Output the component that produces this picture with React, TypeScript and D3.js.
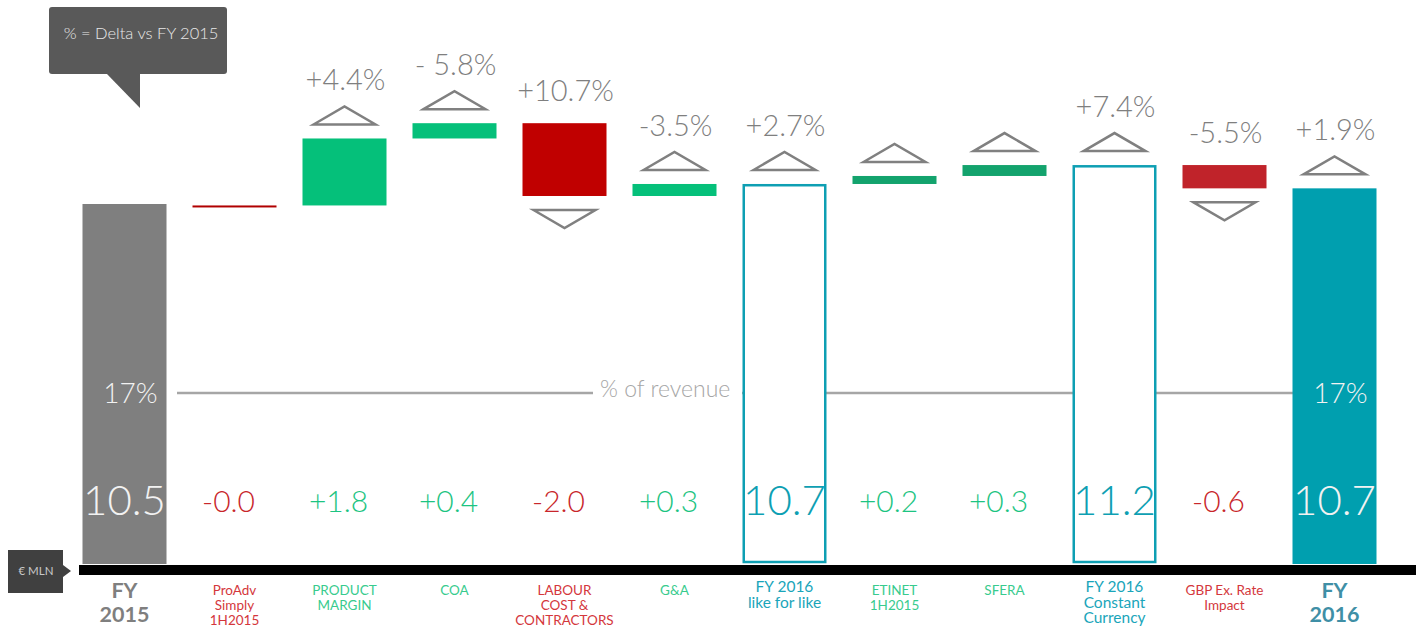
import React from "react";
import * as d3 from "d3";

// ---------- data ----------
const categories = [
  "FY 2015",
  "ProAdv Simply 1H2015",
  "PRODUCT MARGIN",
  "COA",
  "LABOUR COST & CONTRACTORS",
  "G&A",
  "FY 2016 like for like",
  "ETINET 1H2015",
  "SFERA",
  "FY 2016 Constant Currency",
  "GBP Ex. Rate Impact",
  "FY 2016",
];
const tickLines = [
  ["FY", "2015"],
  ["ProAdv", "Simply", "1H2015"],
  ["PRODUCT", "MARGIN"],
  ["COA"],
  ["LABOUR", "COST &", "CONTRACTORS"],
  ["G&A"],
  ["FY 2016", "like for like"],
  ["ETINET", "1H2015"],
  ["SFERA"],
  ["FY 2016", "Constant", "Currency"],
  ["GBP Ex. Rate", "Impact"],
  ["FY", "2016"],
];
const kinds = ["start", "delta", "delta", "delta", "delta", "delta", "total", "delta", "delta", "total", "delta", "total"];
const deltas = [0, -0.04, 1.84, 0.42, -2.0, 0.33, 0, 0.22, 0.3, 0, -0.64, 0];
const totalValues = [10.5, 0, 0, 0, 0, 0, 10.7, 0, 0, 11.2, 0, 10.7];
const pctLabels = ["", "", "+4.4%", "- 5.8%", "+10.7%", "-3.5%", "+2.7%", "", "", "+7.4%", "-5.5%", "+1.9%"];
const arrows = [0, 0, 1, 1, -1, 1, 1, 1, 1, 1, -1, 1];
const revenueShare = ["17%", "", "", "", "", "", "", "", "", "", "", "17%"];
const unitLabel = "€ MLN";
const noteLabel = "% = Delta vs FY 2015";
const revenueLabel = "% of revenue";

// ---------- styles ----------
const barFill = ["#7F7F7F", "#B00000", "#05C07A", "#05C07A", "#C00000", "#05C07A", "none", "#13A36D", "#13A36D", "none", "#C0232A", "#009FAF"];
const tickColor = ["#7F7F7F", "#D4373C", "#38CB8E", "#38CB8E", "#D4373C", "#38CB8E", "#1AA5BA", "#38CB8E", "#38CB8E", "#1AA5BA", "#D4373C", "#3F8FA6"];
const FONT = "'Lato', 'Open Sans', 'DejaVu Sans', sans-serif";
const TEAL = "#0E9FB3";

export default function App() {
  const W = 1416, H = 627;
  const x = d3.scalePoint<string>().domain(categories).range([124.5, 1334.5]);
  const y = d3.scaleLinear().domain([0, 13]).range([586.2, 113]);
  const barW = 84;
  const axisTop = 564;

  // waterfall computation
  let cum = 0;
  const bars = categories.map((c, i) => {
    const k = kinds[i];
    let top: number, bottom: number;
    if (k === "start") {
      cum = totalValues[i];
      top = y(cum); bottom = axisTop;
    } else if (k === "delta") {
      const prev = cum;
      cum += deltas[i];
      top = y(Math.max(prev, cum));
      bottom = y(Math.min(prev, cum));
      if (bottom - top < 2) { top = bottom; bottom = top + 2; }
    } else {
      top = y(cum); bottom = axisTop;
    }
    return { c, i, k, top, bottom, cx: x(c) as number };
  });

  const fmtDelta = (v: number) => (v < 0 ? "-" : "+") + Math.abs(v).toFixed(1);

  const triW = 62, triH = 18, triGap = 14;

  return (
    <svg width={W} height={H} style={{ position: "absolute", left: 0, top: 0, background: "#fff" }} fontFamily={FONT}>
      <rect x={0} y={0} width={W} height={H} fill="#fff" />

      {/* callout */}
      <rect x={49} y={7} width={178} height={67} rx={3} fill="#595959" />
      <path d="M106,73 L140,108 L140,73 Z" fill="#595959" />
      <text x={141} y={39} textAnchor="middle" fontSize={16.5} fill="#E8E8E8" fontWeight={300}>{noteLabel}</text>

      {/* % of revenue line */}
      <line x1={177} x2={1300} y1={393} y2={393} stroke="#A6A6A6" strokeWidth={2.5} />
      <rect x={593} y={375} width={149} height={30} fill="#fff" />
      <text x={600} y={397} fontSize={23} fill="#A6A6A6" fontWeight={300}>{revenueLabel}</text>

      {/* bars */}
      {bars.map((b) => {
        const outlined = barFill[b.i] === "none";
        if (outlined) {
          return (
            <rect key={"b" + b.i} x={b.cx - barW / 2 + 1.25} y={b.top + 1.25} width={barW - 2.5}
              height={b.bottom - 2 - b.top - 1.25} fill="#fff" stroke={TEAL} strokeWidth={2.5} />
          );
        }
        return (
          <rect key={"b" + b.i} x={b.cx - barW / 2} y={b.top} width={barW} height={b.bottom - b.top} fill={barFill[b.i]} />
        );
      })}

      {/* arrows and percentage labels */}
      {bars.map((b) => {
        const dir = arrows[b.i];
        const els: any[] = [];
        if (dir === 1) {
          const base = b.top - triGap;
          els.push(
            <path key={"t" + b.i} d={`M${b.cx - triW / 2},${base} L${b.cx},${base - triH} L${b.cx + triW / 2},${base} Z`}
              fill="#fff" stroke="#808080" strokeWidth={2.5} strokeLinejoin="miter" />
          );
        } else if (dir === -1) {
          const topE = b.bottom + triGap;
          els.push(
            <path key={"t" + b.i} d={`M${b.cx - triW / 2},${topE} L${b.cx},${topE + triH} L${b.cx + triW / 2},${topE} Z`}
              fill="#fff" stroke="#808080" strokeWidth={2.5} />
          );
        }
        if (pctLabels[b.i]) {
          const ly = dir === 1 ? b.top - triGap - triH - 16 : b.top - 22;
          els.push(
            <text key={"p" + b.i} x={b.cx + 1} y={ly} textAnchor="middle" fontSize={29} fill="#7F7F7F" fontWeight={300}>
              {pctLabels[b.i]}
            </text>
          );
        }
        return <g key={"g" + b.i}>{els}</g>;
      })}

      {/* revenue share labels */}
      {bars.map((b) =>
        revenueShare[b.i] ? (
          <text key={"r" + b.i} x={b.cx + 6} y={403} textAnchor="middle" fontSize={28} fill="#F2F2F2" fontWeight={300}>
            {revenueShare[b.i]}
          </text>
        ) : null
      )}

      {/* value labels */}
      {bars.map((b) => {
        if (b.k === "delta") {
          const v = deltas[b.i];
          return (
            <text key={"v" + b.i} x={b.cx - 6} y={512} textAnchor="middle" fontSize={30} fontWeight={300}
              fill={v < 0 ? "#C8262B" : "#1DC482"}>
              {fmtDelta(v)}
            </text>
          );
        }
        const outlined = barFill[b.i] === "none";
        return (
          <text key={"v" + b.i} x={b.cx} y={515} textAnchor="middle" fontSize={42} fontWeight={300}
            fill={outlined ? TEAL : "#F2F2F2"}>
            {totalValues[b.i].toFixed(1)}
          </text>
        );
      })}

      {/* axis band */}
      <rect x={79} y={565} width={W - 79} height={10} fill="#000" />

      {/* unit tag */}
      <path d="M8,550 L63,550 L63,565 L71,571 L63,577 L63,593 L8,593 Z" fill="#404040" />
      <text x={36} y={575} textAnchor="middle" fontSize={11.5} fill="#C8C8C8">{unitLabel}</text>

      {/* category tick labels */}
      {bars.map((b) => {
        const lines = tickLines[b.i];
        const isEnd = b.i === 0 || b.i === categories.length - 1;
        const isSub = b.k === "total" && !isEnd;
        const fs = isEnd ? 21.5 : isSub ? 15.5 : 13.5;
        const lh = isEnd ? 24 : isSub ? 15.5 : 15;
        const y0 = isEnd ? 598 : isSub ? 592 : 595;
        return (
          <text key={"c" + b.i} x={b.cx} y={y0} textAnchor="middle" fontSize={fs}
            fontWeight={isEnd ? 700 : 400} fill={tickColor[b.i]}>
            {lines.map((l, j) => (
              <tspan key={j} x={b.cx} y={y0 + j * lh}>{l}</tspan>
            ))}
          </text>
        );
      })}
    </svg>
  );
}
